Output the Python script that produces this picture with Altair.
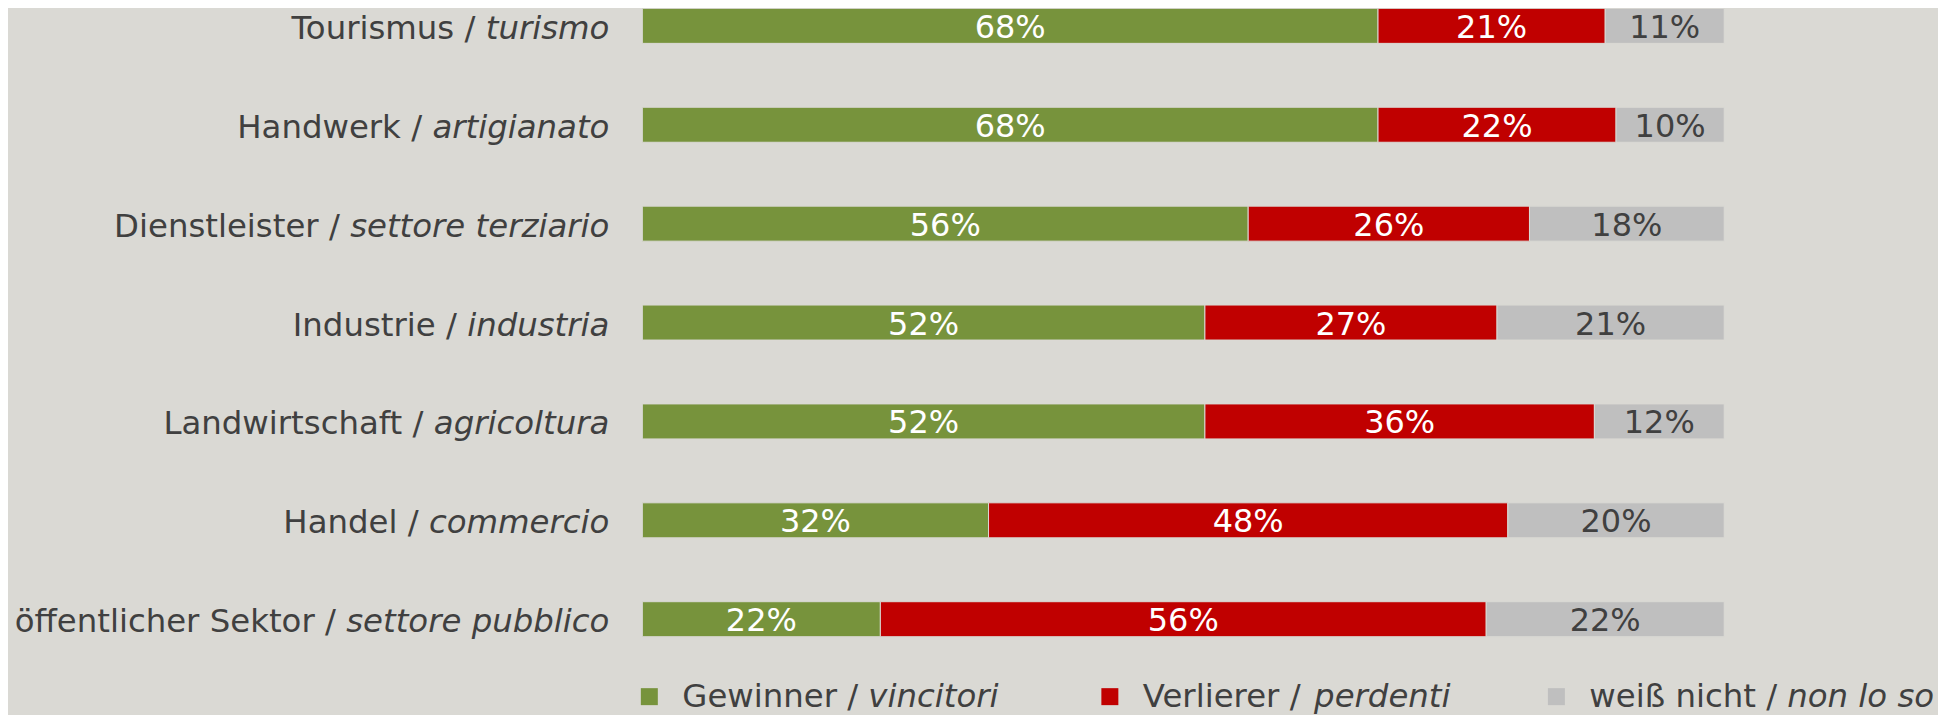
import altair as alt
import pandas as pd

# ---------------- data ----------------
categories_de = ["Tourismus", "Handwerk", "Dienstleister", "Industrie",
                 "Landwirtschaft", "Handel", "öffentlicher Sektor"]
categories_it = ["turismo", "artigianato", "settore terziario", "industria",
                 "agricoltura", "commercio", "settore pubblico"]
gewinner = [68, 68, 56, 52, 52, 32, 22]
verlierer = [21, 22, 26, 27, 36, 48, 56]
weiss_nicht = [11, 10, 18, 21, 12, 20, 22]

series_de = ["Gewinner", "Verlierer", "weiß nicht"]
series_it = ["vincitori", "perdenti", "non lo so"]

# ---------------- styles ----------------
BG = "#dad9d4"
COLORS = ["#77933c", "#c00000", "#bfbfbf"]
TEXT_ON = ["#ffffff", "#ffffff", "#404040"]
DARK = "#404040"
FONT = "DejaVu Sans"
FS = 32.4
FS_BAR = 32
PLOT_W = 1083
PLOT_H = 629
LABEL_RIGHT = -33          # px, right edge of category labels
LEGEND_SWATCH_PX = [7, 468, 915]
LEGEND_TEXT_GAP = 33
LEGEND_Y_SQ = 689
LEGEND_Y_TXT = 699

# DejaVu Sans advance widths (units per em = 2048); oblique has the same advances
ADV = {" ": 651, "/": 690, "%": 1946, "ö": 1253, "ß": 1278,
       "A": 1401, "D": 1577, "G": 1577, "H": 1540, "I": 604, "L": 1141,
       "S": 1300, "T": 1251, "V": 1401,
       "a": 1255, "b": 1300, "c": 1126, "d": 1300, "e": 1260, "f": 721,
       "g": 1300, "h": 1298, "i": 569, "j": 569, "k": 1186, "l": 569,
       "m": 1995, "n": 1298, "o": 1253, "p": 1300, "r": 842, "s": 1067,
       "t": 803, "u": 1298, "v": 1212, "w": 1675, "z": 1075}


def tw(s, size=FS):
    return sum(ADV.get(c, 1250) for c in s) / 2048 * size


# ---------------- tables ----------------
rows = []
for i, cat in enumerate(categories_de):
    vals = [gewinner[i], verlierer[i], weiss_nicht[i]]
    for k, s in enumerate(series_de):
        rows.append({"cat": cat, "seg": s, "order": k, "value": vals[k],
                     "lbl": f"{vals[k]}%", "tcol": TEXT_ON[k]})
df = pd.DataFrame(rows)

lab = pd.DataFrame({
    "cat": categories_de,
    "de": [c + " /" for c in categories_de],
    "it": categories_it,
    "x_it": [LABEL_RIGHT] * len(categories_de),
    "x_de": [LABEL_RIGHT - tw(it) - tw(" ") for it in categories_it],
})

leg = pd.DataFrame({
    "seg": series_de,
    "de": [s + " /" for s in series_de],
    "it": series_it,
    "sw": LEGEND_SWATCH_PX,
    "tx_de": [p + LEGEND_TEXT_GAP for p in LEGEND_SWATCH_PX],
    "tx_it": [p + LEGEND_TEXT_GAP + tw(s + " /") + tw(" ")
              for p, s in zip(LEGEND_SWATCH_PX, series_de)],
    "col": COLORS,
})

# ---------------- encodings ----------------
y_enc = alt.Y("cat:N", sort=categories_de, axis=None,
              scale=alt.Scale(paddingInner=0.646, paddingOuter=0))

stacked = alt.Chart(df).transform_stack(
    stack="value", groupby=["cat"], sort=[alt.SortField("order")],
    as_=["x0", "x1"]
).transform_calculate(mid="(datum.x0 + datum.x1) / 2")

bars = stacked.mark_bar(stroke=BG, strokeWidth=1).encode(
    y=y_enc,
    x=alt.X("x0:Q", axis=None, scale=alt.Scale(domain=[0, 100], nice=False)),
    x2="x1:Q",
    color=alt.Color("seg:N", scale=alt.Scale(domain=series_de, range=COLORS),
                    legend=None),
)

bar_text = stacked.mark_text(font=FONT, fontSize=FS_BAR, baseline="alphabetic",
                             align="center", dy=12).encode(
    y=y_enc,
    x=alt.X("mid:Q"),
    text="lbl:N",
    color=alt.Color("tcol:N", scale=None),
)

lab_de = alt.Chart(lab).mark_text(font=FONT, fontSize=FS, align="right",
                                  baseline="alphabetic", dy=13, color=DARK).encode(
    y=y_enc, x=alt.X("x_de:Q", scale=None), text="de:N")

lab_it = alt.Chart(lab).mark_text(font=FONT, fontSize=FS, align="right",
                                  fontStyle="italic", baseline="alphabetic",
                                  dy=13, color=DARK).encode(
    y=y_enc, x=alt.X("x_it:Q", scale=None), text="it:N")

leg_sq = alt.Chart(leg).mark_square(size=289, filled=True, opacity=1).encode(
    x=alt.X("sw:Q", scale=None), y=alt.value(LEGEND_Y_SQ),
    color=alt.Color("col:N", scale=None))

leg_de = alt.Chart(leg).mark_text(font=FONT, fontSize=FS, align="left",
                                  baseline="alphabetic", color=DARK).encode(
    x=alt.X("tx_de:Q", scale=None), y=alt.value(LEGEND_Y_TXT), text="de:N")

leg_it = alt.Chart(leg).mark_text(font=FONT, fontSize=FS, align="left",
                                  fontStyle="italic", baseline="alphabetic",
                                  color=DARK).encode(
    x=alt.X("tx_it:Q", scale=None), y=alt.value(LEGEND_Y_TXT), text="it:N")

chart = alt.layer(bars, bar_text, lab_de, lab_it, leg_sq, leg_de, leg_it).properties(
    width=PLOT_W, height=PLOT_H,
    autosize=alt.AutoSizeParams(type="none"),
    padding={"left": 635, "top": 0, "right": 214, "bottom": 80},
    background=BG,
).configure_view(stroke=None)

chart.save("out.html", embed_options={"renderer": "svg", "actions": False})
